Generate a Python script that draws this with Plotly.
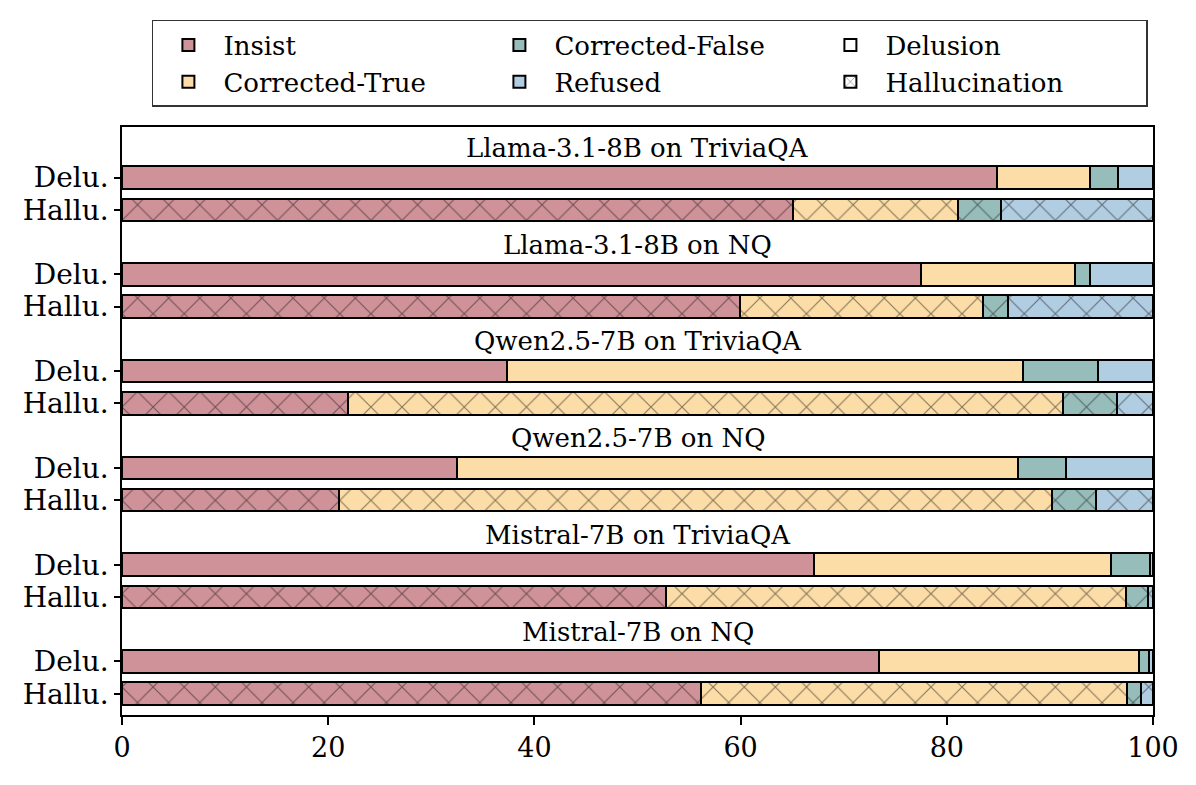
import plotly.graph_objects as go

groups = ["Llama-3.1-8B on TriviaQA", "Llama-3.1-8B on NQ",
          "Qwen2.5-7B on TriviaQA", "Qwen2.5-7B on NQ",
          "Mistral-7B on TriviaQA", "Mistral-7B on NQ"]
row_labels = ["Delu.", "Hallu."]

# percentages (Delusion rows, Hallucination rows)
insist_delu = [84.9, 77.5, 37.3, 32.5, 67.1, 73.4]
insist_hallu = [65.1, 59.9, 21.9, 21.0, 52.8, 56.2]
ctrue_delu = [9.0, 14.9, 50.1, 54.4, 28.8, 25.2]
ctrue_hallu = [16.0, 23.6, 69.4, 69.2, 44.6, 41.3]
cfalse_delu = [2.7, 1.5, 7.3, 4.7, 3.8, 1.0]
cfalse_hallu = [4.2, 2.4, 5.2, 4.3, 2.1, 1.3]
refused_delu = [3.4, 6.1, 5.3, 8.4, 0.3, 0.4]
refused_hallu = [14.7, 14.1, 3.5, 5.5, 0.5, 1.2]

categories = ["Insist", "Corrected-True", "Corrected-False", "Refused"]
colors = ["#D09299", "#FDDDA7", "#97BDBA", "#B1CDE2"]
series = [(insist_delu, insist_hallu), (ctrue_delu, ctrue_hallu),
          (cfalse_delu, cfalse_hallu), (refused_delu, refused_hallu)]

FONT = "DejaVu Serif"

ypos, xlabels = [], []
for i in range(len(groups)):
    ypos += [3 * i, 3 * i + 1]
    xlabels += row_labels

fig = go.Figure()
for name, color, (d, h) in zip(categories, colors, series):
    xs = []
    for a, b in zip(d, h):
        xs += [a, b]
    fig.add_trace(go.Bar(
        x=xs, y=ypos, orientation="h", name=name, width=0.7,
        marker=dict(color=color, line=dict(color="black", width=2),
                    pattern=dict(shape=["", "x"] * len(groups), fillmode="overlay",
                                 fgcolor="#111111", size=22, solidity=0.1)),
        showlegend=False, hoverinfo="x+name"))

# legend entries (row-major order to mimic column layout)
legend_order = [("Insist", colors[0], ""), ("Corrected-False", colors[2], ""),
                ("Delusion", "white", ""), ("Corrected-True", colors[1], ""),
                ("Refused", colors[3], ""), ("Hallucination", "white", "x")]
for name, color, shp in legend_order:
    fig.add_trace(go.Bar(
        x=[None], y=[None], orientation="h", name=name,
        marker=dict(color=color, line=dict(color="black", width=2),
                    pattern=dict(shape=shp, fillmode="overlay", fgcolor="#111111", size=8,
                                 solidity=0.2)),
        showlegend=True))

for i, g in enumerate(groups):
    fig.add_annotation(x=50, y=3 * i - 0.92, xref="x", yref="y", text=g,
                       showarrow=False, font=dict(family=FONT, size=26, color="black"))

fig.update_layout(
    barmode="stack", width=1196, height=785,
    margin=dict(l=114, r=51, t=115, b=78),
    plot_bgcolor="white", paper_bgcolor="white",
    font=dict(family=FONT, size=26, color="black"),
    legend=dict(orientation="h", x=0.029, y=1.182, xanchor="left", yanchor="top",
                bordercolor="#333333", borderwidth=1.5, entrywidth=256,
                entrywidthmode="pixels", itemwidth=60, traceorder="normal",
                font=dict(family=FONT, size=26), tracegroupgap=0),
    xaxis=dict(range=[0, 100], tickvals=[0, 20, 40, 60, 80, 100], ticks="outside",
               ticklen=8, tickwidth=1.5, tickcolor="black", showgrid=False, zeroline=False,
               showline=True, linecolor="black", linewidth=1.5, mirror=True,
               tickfont=dict(family=FONT, size=27)),
    yaxis=dict(range=[16.66, -1.57], tickvals=ypos, ticktext=xlabels, ticks="outside",
               ticklen=6, tickwidth=1.5, tickcolor="black", showgrid=False, zeroline=False,
               showline=True, linecolor="black", linewidth=1.5, mirror=True,
               tickfont=dict(family=FONT, size=28)),
    bargap=0,
)
fig.write_html("out.html")
